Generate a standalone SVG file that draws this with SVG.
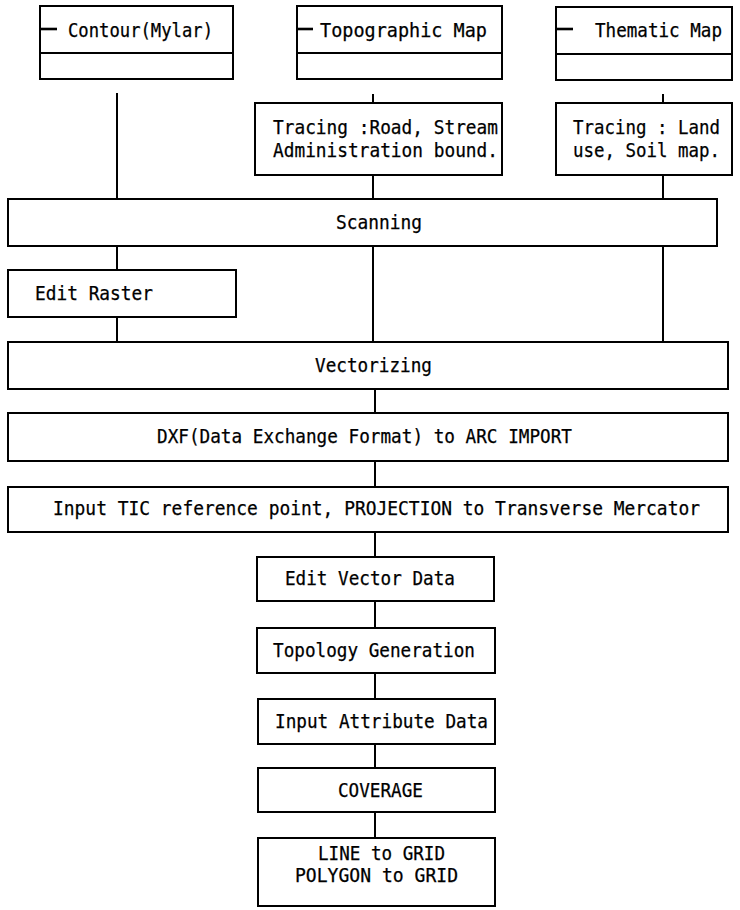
<svg xmlns="http://www.w3.org/2000/svg" width="740" height="910" viewBox="0 0 740 910">
<style>
.box{fill:#fff;stroke:#000;stroke-width:2}
.ln{stroke:#000;stroke-width:2;fill:none}
.dash{stroke:#000;stroke-width:2.6}
.t{font-family:"DejaVu Sans Mono","Liberation Mono",monospace;font-size:18.6px;fill:#000;stroke:#000;stroke-width:0.25}
</style>
<rect width="740" height="910" fill="#fff"/>
<g id="connectors" class="ln">
<line x1="117" y1="93" x2="117" y2="198"/>
<line x1="373" y1="94" x2="373" y2="103"/>
<line x1="663" y1="94" x2="663" y2="103"/>
<line x1="373" y1="175" x2="373" y2="198"/>
<line x1="663" y1="175" x2="663" y2="198"/>
<line x1="117" y1="246" x2="117" y2="270"/>
<line x1="117" y1="317" x2="117" y2="342"/>
<line x1="373" y1="246" x2="373" y2="342"/>
<line x1="663" y1="246" x2="663" y2="342"/>
<line x1="375" y1="389" x2="375" y2="413"/>
<line x1="375" y1="461" x2="375" y2="487"/>
<line x1="375" y1="532" x2="375" y2="557"/>
<line x1="375" y1="601" x2="375" y2="628"/>
<line x1="375" y1="673" x2="375" y2="699"/>
<line x1="375" y1="744" x2="375" y2="768"/>
<line x1="375" y1="812" x2="375" y2="838"/>
</g>
<g id="contour">
<rect class="box" x="40" y="6" width="193" height="73"/>
<line class="ln" x1="40" y1="53" x2="233" y2="53"/>
<line class="dash" x1="40" y1="29" x2="57" y2="29"/>
<text class="t" x="68" y="37" textLength="145" lengthAdjust="spacingAndGlyphs">Contour(Mylar)</text>
</g>
<g id="topographic">
<rect class="box" x="297" y="6" width="205" height="73"/>
<line class="ln" x1="297" y1="53" x2="502" y2="53"/>
<line class="dash" x1="297" y1="29" x2="313" y2="29"/>
<text class="t" x="320" y="37" textLength="167" lengthAdjust="spacingAndGlyphs">Topographic Map</text>
</g>
<g id="thematic">
<rect class="box" x="556" y="7" width="176" height="73"/>
<line class="ln" x1="556" y1="54" x2="732" y2="54"/>
<line class="dash" x1="556" y1="29" x2="573" y2="29"/>
<text class="t" x="595" y="37" textLength="127" lengthAdjust="spacingAndGlyphs">Thematic Map</text>
</g>
<g id="tracing-topo">
<rect class="box" x="255" y="103" width="247" height="72"/>
<text class="t" x="273" y="134" textLength="225" lengthAdjust="spacingAndGlyphs">Tracing :Road, Stream</text>
<text class="t" x="273" y="157" textLength="225" lengthAdjust="spacingAndGlyphs">Administration bound.</text>
</g>
<g id="tracing-thematic">
<rect class="box" x="556" y="103" width="176" height="72"/>
<text class="t" x="573" y="134" textLength="147" lengthAdjust="spacingAndGlyphs">Tracing : Land</text>
<text class="t" x="573" y="157" textLength="147" lengthAdjust="spacingAndGlyphs">use, Soil map.</text>
</g>
<g id="scanning">
<rect class="box" x="8" y="199" width="709" height="47"/>
<text class="t" x="336" y="229" textLength="86" lengthAdjust="spacingAndGlyphs">Scanning</text>
</g>
<g id="edit-raster">
<rect class="box" x="8" y="270" width="228" height="47"/>
<text class="t" x="35" y="300" textLength="118" lengthAdjust="spacingAndGlyphs">Edit Raster</text>
</g>
<g id="vectorizing">
<rect class="box" x="8" y="342" width="720" height="47"/>
<text class="t" x="315" y="372" textLength="117" lengthAdjust="spacingAndGlyphs">Vectorizing</text>
</g>
<g id="dxf">
<rect class="box" x="8" y="413" width="720" height="48"/>
<text class="t" x="157" y="443" textLength="415" lengthAdjust="spacingAndGlyphs">DXF(Data Exchange Format) to ARC IMPORT</text>
</g>
<g id="input-tic">
<rect class="box" x="8" y="487" width="720" height="45"/>
<text class="t" x="53" y="515" textLength="647" lengthAdjust="spacingAndGlyphs">Input TIC reference point, PROJECTION to Transverse Mercator</text>
</g>
<g id="edit-vector">
<rect class="box" x="257" y="557" width="237" height="44"/>
<text class="t" x="285" y="585" textLength="170" lengthAdjust="spacingAndGlyphs">Edit Vector Data</text>
</g>
<g id="topology">
<rect class="box" x="257" y="628" width="238" height="45"/>
<text class="t" x="273" y="657" textLength="202" lengthAdjust="spacingAndGlyphs">Topology Generation</text>
</g>
<g id="input-attribute">
<rect class="box" x="258" y="699" width="237" height="45"/>
<text class="t" x="275" y="728" textLength="213" lengthAdjust="spacingAndGlyphs">Input Attribute Data</text>
</g>
<g id="coverage">
<rect class="box" x="258" y="768" width="237" height="44"/>
<text class="t" x="338" y="797" textLength="85" lengthAdjust="spacingAndGlyphs">COVERAGE</text>
</g>
<g id="to-grid">
<rect class="box" x="258" y="838" width="237" height="68"/>
<text class="t" x="318" y="860" textLength="127" lengthAdjust="spacingAndGlyphs">LINE to GRID</text>
<text class="t" x="295" y="882" textLength="163" lengthAdjust="spacingAndGlyphs">POLYGON to GRID</text>
</g>
</svg>
